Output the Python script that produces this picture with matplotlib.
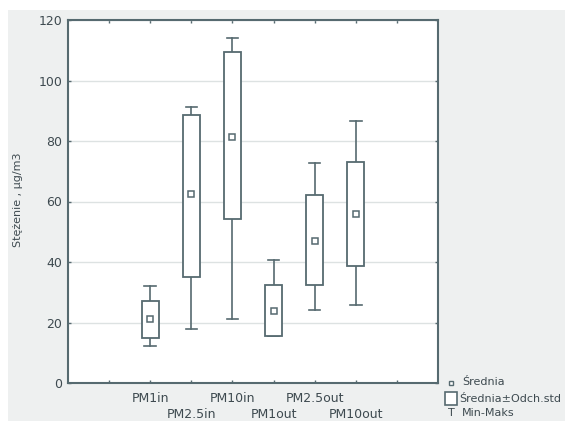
import matplotlib
matplotlib.use("Agg")
import matplotlib.pyplot as plt
from matplotlib.patches import Rectangle
from matplotlib.transforms import blended_transform_factory

categories = ["PM1in", "PM2.5in", "PM10in", "PM1out", "PM2.5out", "PM10out"]
means = [21, 62.5, 81.4, 23.8, 47, 56]
box_low = [15, 35.1, 54.1, 15.6, 32.4, 38.7]
box_high = [27.1, 88.6, 109.5, 32.4, 62, 73.2]
mins = [12.3, 18, 21, 15.6, 24.2, 25.8]
maxs = [32, 91.1, 113.9, 40.7, 72.8, 86.7]
yticks = [0, 20, 40, 60, 80, 100, 120]

W, H = 565, 421
fig = plt.figure(figsize=(W / 100, H / 100), dpi=100)
fig.patch.set_facecolor("white")
bg = "#eef0f0"
fig.patches.append(Rectangle((8 / W, 0), 1, 1 - 10 / H, transform=fig.transFigure,
                             facecolor=bg, edgecolor="none", zorder=-10))

ax = fig.add_axes([68 / W, (H - 383) / H, 370 / W, 363 / H])
ax.set_facecolor("white")
lc = "#566a70"
txt = "#3e4a50"

for i in range(len(categories)):
    x = i + 2
    bw = 0.41
    ax.plot([x, x], [box_high[i], maxs[i]], color=lc, lw=1.2, zorder=3)
    ax.plot([x, x], [mins[i], box_low[i]], color=lc, lw=1.2, zorder=3)
    ax.plot([x - 0.14, x + 0.14], [maxs[i], maxs[i]], color=lc, lw=1.2, zorder=3)
    ax.plot([x - 0.14, x + 0.14], [mins[i], mins[i]], color=lc, lw=1.2, zorder=3)
    ax.add_patch(Rectangle((x - bw / 2, box_low[i]), bw, box_high[i] - box_low[i],
                           facecolor="white", edgecolor=lc, lw=1.3, zorder=4))
    ax.plot([x], [means[i]], marker="s", ms=4.5, mfc="white", mec=lc, mew=1.1, zorder=5)

ax.set_xlim(0, 9)
ax.set_ylim(0, 120)
ax.set_yticks(yticks)
ax.set_yticklabels([str(v) for v in yticks], fontsize=9, color=txt)
ax.set_xticks(list(range(1, 9)))
ax.set_xticklabels([])
trans = blended_transform_factory(ax.transData, fig.transFigure)
for i, c in enumerate(categories):
    ypix = 399 if i % 2 == 0 else 414
    ax.text(i + 2, 1 - ypix / H, c, transform=trans, fontsize=9, color=txt,
            ha="center", va="center")
ax.tick_params(direction="in", length=2.5, width=1, color=lc, top=True, right=True,
               pad=4)
ax.grid(axis="y", color="#dde2e2", lw=1)
ax.set_axisbelow(True)
for s in ax.spines.values():
    s.set_color(lc)
    s.set_linewidth(1.5)

fig.text(18 / W, 1 - 200 / H, "Stężenie , μg/m3", rotation=90, fontsize=8,
         color=txt, ha="center", va="center")

# legend
fig.lines.append(plt.Line2D([451 / W], [1 - 383 / H], marker="s", ms=3.5, mfc="white",
                            mec=lc, mew=1, transform=fig.transFigure))
fig.text(462 / W, 1 - 382 / H, "Średnia", fontsize=8, color=txt, va="center")
fig.patches.append(Rectangle((445 / W, 1 - 405 / H), 12 / W, 13 / H, transform=fig.transFigure,
                             facecolor="white", edgecolor=lc, lw=1.2))
fig.text(459 / W, 1 - 399 / H, "Średnia±Odch.std", fontsize=8, color=txt, va="center")
fig.text(451 / W, 1 - 413 / H, "T", fontsize=8, color=txt, va="center", ha="center")
fig.text(462 / W, 1 - 413 / H, "Min-Maks", fontsize=8, color=txt, va="center")

fig.savefig("out.png", dpi=100, facecolor=fig.get_facecolor())
